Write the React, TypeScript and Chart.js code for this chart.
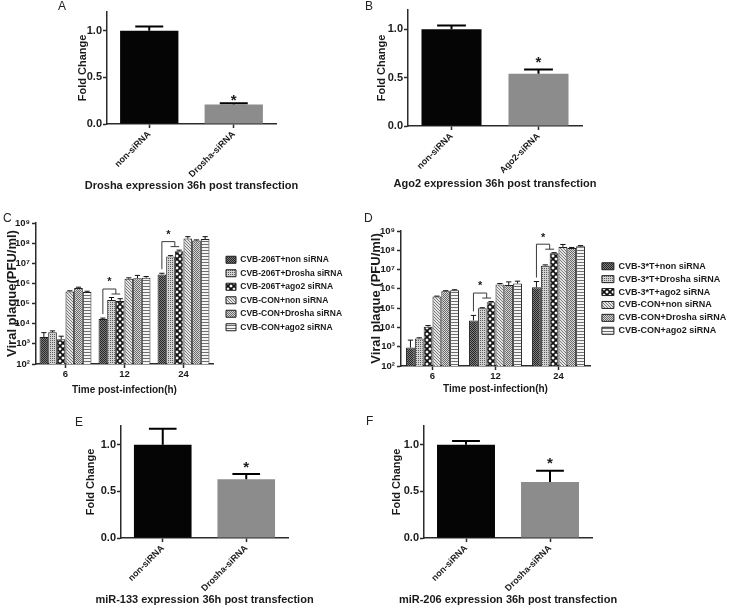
import React, { useEffect, useRef } from "react";
import { Chart, registerables } from "chart.js";

Chart.register(...registerables);

const FONT = "'Liberation Sans', Arial, Helvetica, sans-serif";
const TEXT = "#1a1a1a";
const AXIS = "#2b2b2b";

// ---------------- Panel A : Drosha expression ----------------
const droshaCategories = ["non-siRNA", "Drosha-siRNA"];
const droshaFold = [1.0, 0.21];
const droshaFoldSem = [0.045, 0.012];

// ---------------- Panel B : Ago2 expression ----------------
const ago2Categories = ["non-siRNA", "Ago2-siRNA"];
const ago2Fold = [1.0, 0.54];
const ago2FoldSem = [0.04, 0.045];

// ---------------- Panel E : miR-133 expression ----------------
const mir133Categories = ["non-siRNA", "Drosha-siRNA"];
const mir133Fold = [1.0, 0.63];
const mir133FoldSem = [0.17, 0.055];

// ---------------- Panel F : miR-206 expression ----------------
const mir206Categories = ["non-siRNA", "Drosha-siRNA"];
const mir206Fold = [1.0, 0.6];
const mir206FoldSem = [0.04, 0.12];

const foldSignificant = [false, true];
const foldTicks = [0, 0.5, 1.0];
const foldAxisMax = 1.2;

// ---------------- Panels C / D : viral plaque ----------------
const timeCategories = ["6", "12", "24"];
const plaqueTicks = [1e2, 1e3, 1e4, 1e5, 1e6, 1e7, 1e8, 1e9];
const bracketTimes = [1, 2];

const seriesNamesC = [
  "CVB-206T+non siRNA",
  "CVB-206T+Drosha siRNA",
  "CVB-206T+ago2 siRNA",
  "CVB-CON+non siRNA",
  "CVB-CON+Drosha siRNA",
  "CVB-CON+ago2 siRNA",
];
const c206tNon = [2.2e3, 1.7e4, 2.8e6];
const c206tNonSem = [1.4e3, 2e3, 4e5];
const c206tDrosha = [3.8e3, 1.5e5, 2.2e7];
const c206tDroshaSem = [6e2, 5e4, 2e6];
const c206tAgo2 = [1.7e3, 1.35e5, 4.0e7];
const c206tAgo2Sem = [7e2, 4e4, 5e6];
const cConNon = [4.0e5, 1.7e6, 1.7e8];
const cConNonSem = [3e4, 2e5, 4e7];
const cConDrosha = [6.0e5, 1.8e6, 1.35e8];
const cConDroshaSem = [5e4, 7e5, 1e7];
const cConAgo2 = [3.8e5, 1.9e6, 1.6e8];
const cConAgo2Sem = [3e4, 3e5, 5e7];

const seriesNamesD = [
  "CVB-3*T+non siRNA",
  "CVB-3*T+Drosha siRNA",
  "CVB-3*T+ago2 siRNA",
  "CVB-CON+non siRNA",
  "CVB-CON+Drosha siRNA",
  "CVB-CON+ago2 siRNA",
];
const d3tNon = [9e2, 2.3e4, 1.2e6];
const d3tNonSem = [1.3e3, 1.9e4, 1.2e6];
const d3tDrosha = [2.7e3, 1.0e5, 1.6e7];
const d3tDroshaSem = [2e2, 5e3, 1.5e6];
const d3tAgo2 = [1.1e4, 2.0e5, 7.0e7];
const d3tAgo2Sem = [1.5e3, 2e4, 5e6];
const dConNon = [4.0e5, 1.7e6, 1.5e8];
const dConNonSem = [2e4, 2e5, 5e7];
const dConDrosha = [7.5e5, 1.6e6, 1.3e8];
const dConDroshaSem = [5e4, 7e5, 1e7];
const dConAgo2 = [8.5e5, 1.9e6, 1.6e8];
const dConAgo2Sem = [5e4, 6e5, 1.5e7];

// ---------------- layout (page pixels) ----------------
type Geom = {
  x0: number; y0: number; w: number; h: number;
  L: number; R: number; T: number; B: number;
  yTitleX: number; xTitleY: number;
};
const geomA: Geom = { x0: 0, y0: 0, w: 364, h: 196, L: 107, R: 276, T: 12, B: 124, yTitleX: 83, xTitleY: 186 };
const geomB: Geom = { x0: 364, y0: 0, w: 365, h: 196, L: 408, R: 582, T: 10, B: 126, yTitleX: 382, xTitleY: 184 };
const geomC: Geom = { x0: 0, y0: 196, w: 364, h: 200, L: 36, R: 213, T: 223, B: 364, yTitleX: 12, xTitleY: 390 };
const geomD: Geom = { x0: 364, y0: 196, w: 365, h: 200, L: 401, R: 590, T: 231, B: 366, yTitleX: 376, xTitleY: 389 };
const geomE: Geom = { x0: 0, y0: 396, w: 364, h: 211, L: 121, R: 288, T: 426, B: 538, yTitleX: 91, xTitleY: 600 };
const geomF: Geom = { x0: 364, y0: 396, w: 365, h: 211, L: 424, R: 592, T: 426, B: 538, yTitleX: 397, xTitleY: 600 };

function layoutFor(g: Geom, ySize: number, xSize: number, rightExtra = 0) {
  const yLH = ySize * 1.2;
  const xLH = xSize * 1.2;
  const yTitleLeft = g.yTitleX - yLH / 2;
  const xBottom = g.xTitleY + xLH / 2;
  return {
    padLeft: yTitleLeft - g.x0,
    yWidth: g.L - yTitleLeft,
    padTop: g.T - g.y0,
    xHeight: xBottom - g.B,
    padBottom: g.y0 + g.h - xBottom,
    padRight: g.x0 + g.w - g.R - rightExtra,
  };
}

const font = (size: number, weight: any = "bold") => ({ family: FONT, size, weight });

function errorBarPlugin(values: number[][], sems: number[][], capRatio: number, lineWidth: number, color: string) {
  return {
    id: "errorBars",
    afterDatasetsDraw(chart: any) {
      const ctx = chart.ctx;
      const ys = chart.scales.y;
      ctx.save();
      ctx.strokeStyle = color;
      ctx.lineWidth = lineWidth;
      values.forEach((arr, di) => {
        const meta = chart.getDatasetMeta(di);
        arr.forEach((v, j) => {
          const bar = meta.data[j];
          if (!bar) return;
          const p = bar.getProps(["x", "y", "width"], true);
          const ey = ys.getPixelForValue(v + sems[di][j]);
          const half = (p.width * capRatio) / 2;
          ctx.beginPath();
          ctx.moveTo(p.x, p.y);
          ctx.lineTo(p.x, ey);
          ctx.moveTo(p.x - half, ey);
          ctx.lineTo(p.x + half, ey);
          ctx.stroke();
        });
      });
      ctx.restore();
    },
  };
}

function drawStar(ctx: CanvasRenderingContext2D, x: number, cy: number, size: number) {
  ctx.save();
  ctx.fillStyle = TEXT;
  ctx.font = `bold ${size}px ${FONT}`;
  ctx.textAlign = "center";
  ctx.textBaseline = "alphabetic";
  ctx.fillText("*", x, cy + 0.575 * size);
  ctx.restore();
}

function foldStarPlugin(values: number[], sems: number[], gap: number, size: number) {
  return {
    id: "foldStars",
    afterDatasetsDraw(chart: any) {
      const ys = chart.scales.y;
      const meta = chart.getDatasetMeta(0);
      foldSignificant.forEach((sig, j) => {
        if (!sig) return;
        const bar = meta.data[j];
        const ey = ys.getPixelForValue(values[j] + sems[j]);
        drawStar(chart.ctx, bar.x, ey - gap, size);
      });
    },
  };
}

// caption under the x axis, centred on the plot area (drawn without width squeezing)
function captionPlugin(text: string, localY: number, size: number) {
  return {
    id: "caption",
    afterDraw(chart: any) {
      const ctx = chart.ctx;
      const a = chart.chartArea;
      ctx.save();
      ctx.fillStyle = TEXT;
      ctx.font = `bold ${size}px ${FONT}`;
      ctx.textAlign = "center";
      ctx.textBaseline = "middle";
      ctx.fillText(text, (a.left + a.right) / 2, localY);
      ctx.restore();
    },
  };
}

function bracketPlugin(series: number[][], sems: number[][], size: number) {
  return {
    id: "brackets",
    afterDatasetsDraw(chart: any) {
      const ctx = chart.ctx;
      const ys = chart.scales.y;
      const bx = (di: number, t: number) => chart.getDatasetMeta(di).data[t].x;
      const top = (di: number, t: number) => ys.getPixelForValue(series[di][t] + sems[di][t]);
      ctx.save();
      ctx.strokeStyle = "#3a3a3a";
      ctx.lineWidth = 1;
      bracketTimes.forEach((t) => {
        const x0 = bx(0, t);
        const x1 = bx(1, t);
        const x2 = bx(2, t);
        const low = Math.min(top(1, t), top(2, t)) - 3.5;
        const hi = low - 5;
        const start = top(0, t) - 4;
        const xm = (x1 + x2) / 2;
        ctx.beginPath();
        ctx.moveTo(x0, start);
        ctx.lineTo(x0, hi);
        ctx.lineTo(xm, hi);
        ctx.lineTo(xm, low);
        ctx.moveTo(x1, low);
        ctx.lineTo(x2, low);
        ctx.stroke();
        drawStar(ctx, (x0 + xm) / 2, hi - 10, size);
      });
      ctx.restore();
    },
  };
}

function makePatterns(ctx: CanvasRenderingContext2D): any[] {
  const mk = (w: number, h: number, draw: (g: CanvasRenderingContext2D) => void) => {
    const c = document.createElement("canvas");
    c.width = w;
    c.height = h;
    const g = c.getContext("2d")!;
    draw(g);
    return ctx.createPattern(c, "repeat") || "#888";
  };
  const px = (g: CanvasRenderingContext2D, x: number, y: number, col: string) => {
    g.fillStyle = col;
    g.fillRect(x, y, 1, 1);
  };
  return [
    mk(2, 2, (g) => { g.fillStyle = "#7d7d7d"; g.fillRect(0, 0, 2, 2); px(g, 0, 0, "#262626"); px(g, 1, 1, "#262626"); }),
    mk(2, 2, (g) => { g.fillStyle = "#d2d2d2"; g.fillRect(0, 0, 2, 2); px(g, 0, 0, "#5a5a5a"); }),
    mk(6, 6, (g) => {
      g.fillStyle = "#fafafa"; g.fillRect(0, 0, 6, 6);
      g.strokeStyle = "#111"; g.lineWidth = 1.7;
      g.beginPath();
      g.moveTo(-1, -1); g.lineTo(7, 7);
      g.moveTo(7, -1); g.lineTo(-1, 7);
      g.moveTo(-1, 5); g.lineTo(1, 7);
      g.moveTo(5, -1); g.lineTo(7, 1);
      g.moveTo(-1, 1); g.lineTo(1, -1);
      g.moveTo(5, 7); g.lineTo(7, 5);
      g.stroke();
    }),
    mk(3, 3, (g) => { g.fillStyle = "#e4e4e4"; g.fillRect(0, 0, 3, 3); px(g, 0, 0, "#7a7a7a"); px(g, 1, 1, "#7a7a7a"); px(g, 2, 2, "#7a7a7a"); }),
    mk(2, 2, (g) => { g.fillStyle = "#d6d6d6"; g.fillRect(0, 0, 2, 2); px(g, 0, 0, "#6a6a6a"); px(g, 1, 1, "#6a6a6a"); }),
    mk(1, 3, (g) => { g.fillStyle = "#f4f4f4"; g.fillRect(0, 0, 1, 3); px(g, 0, 0, "#6e6e6e"); }),
  ];
}

const SUP = "⁰¹²³⁴⁵⁶⁷⁸⁹";
const powLabel = (v: number) => "10" + String(Math.round(Math.log10(v))).split("").map((d) => SUP[Number(d)]).join("");

function axisGrid() {
  return { display: true, drawOnChartArea: false, drawTicks: true, tickLength: 4, tickWidth: 1.5, color: AXIS, offset: false };
}

function foldConfig(g: Geom, categories: string[], values: number[], sems: number[], title: string, starGap: number) {
  const lay = layoutFor(g, 11, 11);
  return {
    type: "bar",
    data: {
      labels: categories,
      datasets: [{ data: values, backgroundColor: ["#050505", "#8c8c8c"], borderWidth: 0, barPercentage: 0.69, categoryPercentage: 1 }],
    },
    options: {
      responsive: false,
      animation: false,
      events: [],
      layout: { padding: { left: lay.padLeft, top: lay.padTop, right: lay.padRight, bottom: lay.padBottom } },
      plugins: { legend: { display: false }, tooltip: { enabled: false } },
      scales: {
        x: {
          offset: true,
          grid: axisGrid(),
          border: { display: true, color: AXIS, width: 1.5 },
          ticks: { autoSkip: false, maxRotation: 45, minRotation: 45, padding: 1, color: TEXT, font: font(9) },
          afterFit: (s: any) => { s.height = lay.xHeight; },
        },
        y: {
          min: 0,
          max: foldAxisMax,
          afterBuildTicks: (s: any) => { s.ticks = foldTicks.map((v) => ({ value: v })); },
          grid: axisGrid(),
          border: { display: true, color: AXIS, width: 1.5 },
          ticks: { padding: 1, color: TEXT, font: font(11), callback: (v: any) => Number(v).toFixed(1) },
          title: { display: true, text: "Fold Change", padding: 0, color: TEXT, font: font(11) },
          afterFit: (s: any) => { s.width = lay.yWidth; },
        },
      },
    },
    plugins: [
      errorBarPlugin([values], [sems], 0.48, 2, "#000"),
      foldStarPlugin(values, sems, starGap, 15),
      captionPlugin(title, g.xTitleY - g.y0, 11),
    ],
  };
}

function plaqueConfig(
  ctx: CanvasRenderingContext2D, g: Geom, names: string[], series: number[][], sems: number[][],
  yTitle: string, catPct: number, spacer: number, boxW: number, legendPad: number, legendSize: number,
) {
  const lay = layoutFor(g, 13, 10, spacer + 130);
  const patterns = makePatterns(ctx);
  return {
    type: "bar",
    data: {
      labels: timeCategories,
      datasets: series.map((s, i) => ({
        label: names[i],
        data: s,
        backgroundColor: patterns[i],
        borderColor: "#1e1e1e",
        borderWidth: 1,
        barPercentage: 1,
        categoryPercentage: catPct,
      })),
    },
    options: {
      responsive: false,
      animation: false,
      events: [],
      layout: { padding: { left: lay.padLeft, top: lay.padTop, right: lay.padRight, bottom: lay.padBottom } },
      plugins: {
        tooltip: { enabled: false },
        legend: {
          display: true,
          position: "right",
          align: "center",
          fullSize: false,
          maxWidth: 400,
          labels: { boxWidth: boxW, boxHeight: 7, padding: legendPad, color: TEXT, font: font(legendSize) },
        },
      },
      scales: {
        x: {
          offset: true,
          grid: axisGrid(),
          border: { display: true, color: AXIS, width: 1.5 },
          ticks: { autoSkip: false, maxRotation: 0, minRotation: 0, padding: 1, color: TEXT, font: font(9.5) },
          title: { display: true, text: "Time post-infection(h)", padding: 0, color: TEXT, font: font(10) },
          afterFit: (s: any) => { s.height = lay.xHeight; },
        },
        y: {
          type: "logarithmic",
          min: plaqueTicks[0],
          max: plaqueTicks[plaqueTicks.length - 1],
          afterBuildTicks: (s: any) => { s.ticks = plaqueTicks.map((v) => ({ value: v })); },
          grid: axisGrid(),
          border: { display: true, color: AXIS, width: 1.5 },
          ticks: { padding: 2, color: TEXT, font: font(9.5), callback: (v: any) => powLabel(Number(v)) },
          title: { display: true, text: yTitle, padding: 0, color: TEXT, font: font(13) },
          afterFit: (s: any) => { s.width = lay.yWidth; },
        },
        gap: {
          type: "linear",
          position: "right",
          display: true,
          grid: { display: false },
          border: { display: false },
          ticks: { display: false },
          afterFit: (s: any) => { s.width = spacer; },
        },
      },
    },
    plugins: [errorBarPlugin(series, sems, 0.6, 1, "#111"), bracketPlugin(series, sems, 11)],
  };
}

function ChartPanel({ geom, make, fixRight }: { geom: Geom; make: (ctx: CanvasRenderingContext2D) => any; fixRight?: boolean }) {
  const ref = useRef<HTMLCanvasElement>(null);
  useEffect(() => {
    const canvas = ref.current;
    if (!canvas) return;
    const ctx = canvas.getContext("2d")!;
    const cfg = make(ctx);
    const chart = new Chart(ctx, cfg);
    if (fixRight) {
      // keep the plot area's right edge where the reference has it, whatever width the legend takes
      const target = geom.R - geom.x0;
      for (let k = 0; k < 3; k++) {
        const d = chart.chartArea.right - target;
        if (Math.abs(d) < 0.05) break;
        const p = chart.options.layout.padding as any;
        chart.options.layout.padding = { left: p.left, top: p.top, bottom: p.bottom, right: p.right + d };
        chart.update();
      }
    }
    return () => chart.destroy();
  }, []);
  return (
    <canvas
      ref={ref}
      width={geom.w}
      height={geom.h}
      style={{ position: "absolute", left: geom.x0, top: geom.y0, width: geom.w, height: geom.h, display: "block" }}
    />
  );
}

function Letter({ x, y, text }: { x: number; y: number; text: string }) {
  return (
    <div style={{ position: "absolute", left: x, top: y, font: `12px ${FONT}`, lineHeight: "12px", color: "#222" }}>{text}</div>
  );
}

export default function App() {
  return (
    <div style={{ position: "absolute", left: 0, top: 0, width: 729, height: 607, background: "#fff", overflow: "hidden" }}>
      <ChartPanel geom={geomA} make={() => foldConfig(geomA, droshaCategories, droshaFold, droshaFoldSem, "Drosha expression 36h post transfection", 7)} />
      <ChartPanel geom={geomB} make={() => foldConfig(geomB, ago2Categories, ago2Fold, ago2FoldSem, "Ago2 expression 36h post transfection", 11)} />
      <ChartPanel
        geom={geomC}
        fixRight
        make={(ctx) =>
          plaqueConfig(
            ctx, geomC, seriesNamesC,
            [c206tNon, c206tDrosha, c206tAgo2, cConNon, cConDrosha, cConAgo2],
            [c206tNonSem, c206tDroshaSem, c206tAgo2Sem, cConNonSem, cConDroshaSem, cConAgo2Sem],
            "Viral plaque(PFU/ml)", 0.88, 8, 10, 5, 8.5,
          )
        }
      />
      <ChartPanel
        geom={geomD}
        fixRight
        make={(ctx) =>
          plaqueConfig(
            ctx, geomD, seriesNamesD,
            [d3tNon, d3tDrosha, d3tAgo2, dConNon, dConDrosha, dConAgo2],
            [d3tNonSem, d3tDroshaSem, d3tAgo2Sem, dConNonSem, dConDroshaSem, dConAgo2Sem],
            "Viral plaque (PFU/ml)", 0.84, 8, 12, 3.9, 9,
          )
        }
      />
      <ChartPanel geom={geomE} make={() => foldConfig(geomE, mir133Categories, mir133Fold, mir133FoldSem, "miR-133 expression 36h post transfection", 11)} />
      <ChartPanel geom={geomF} make={() => foldConfig(geomF, mir206Categories, mir206Fold, mir206FoldSem, "miR-206 expression 36h post transfection", 11)} />
      <Letter x={58} y={0} text="A" />
      <Letter x={365} y={0} text="B" />
      <Letter x={3} y={212} text="C" />
      <Letter x={364} y={212} text="D" />
      <Letter x={75} y={416} text="E" />
      <Letter x={366} y={415} text="F" />
    </div>
  );
}
